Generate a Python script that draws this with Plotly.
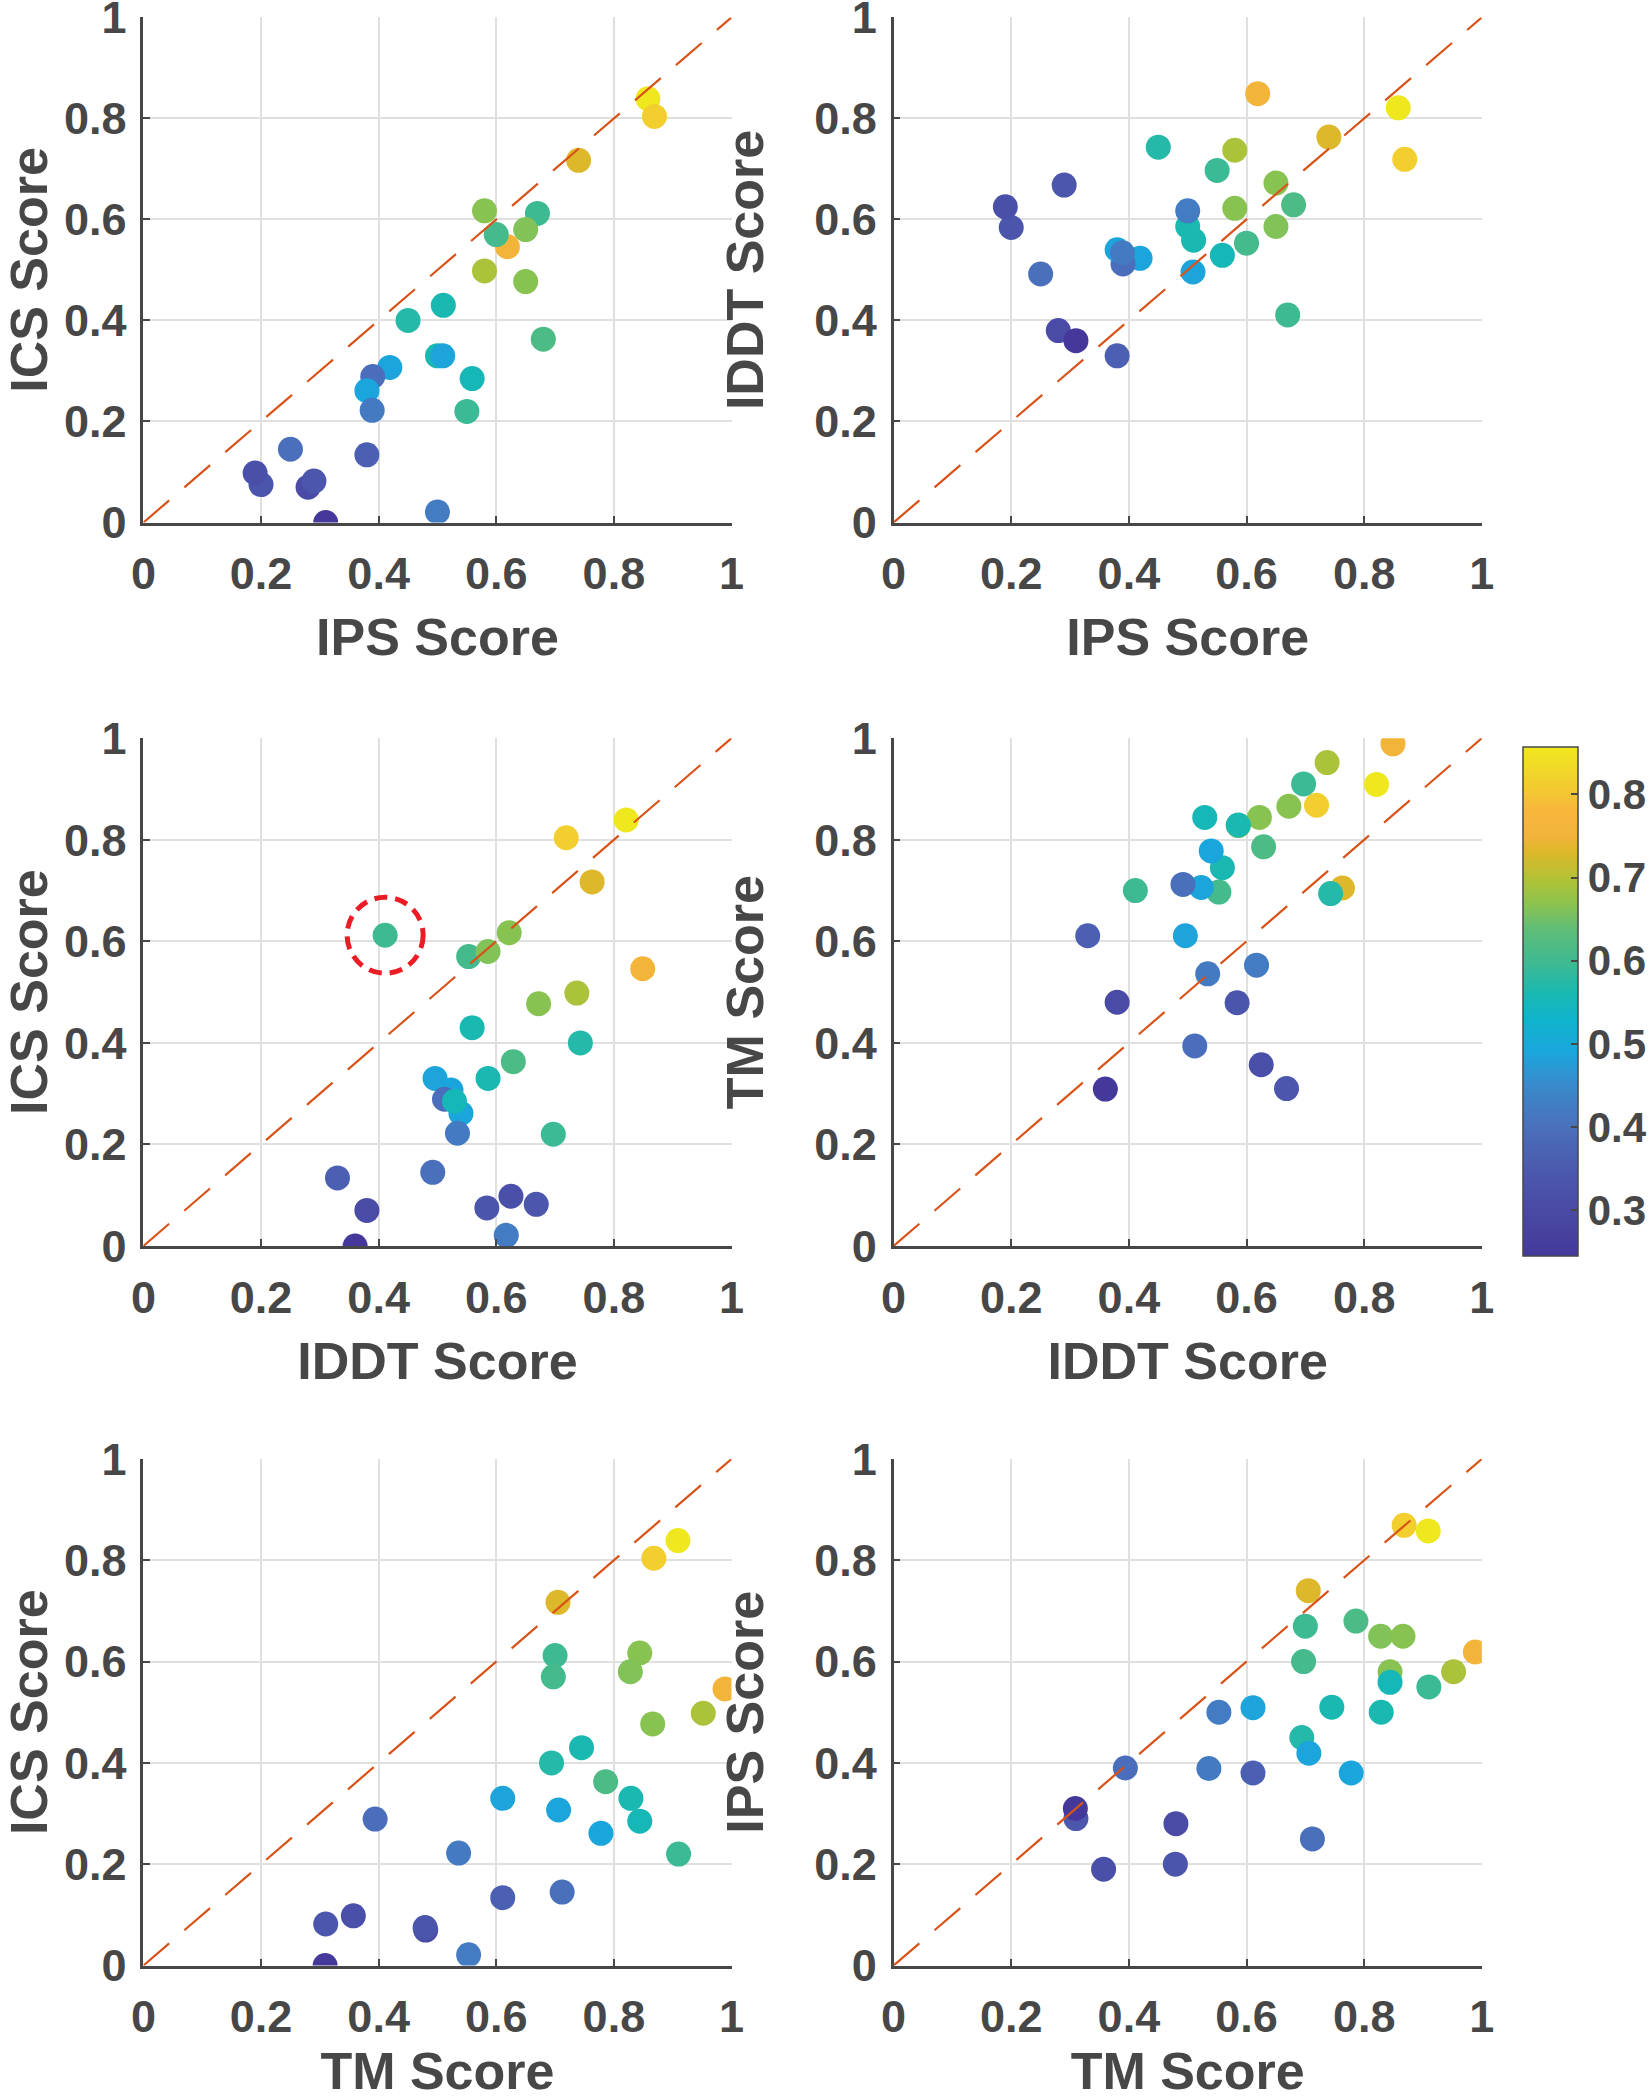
import plotly.graph_objects as go

# ---- data (one entry per target) ----
ips  = [0.858, 0.869, 0.740, 0.619, 0.580, 0.580, 0.670, 0.600, 0.450, 0.680,
        0.650, 0.650, 0.510, 0.500, 0.509, 0.419, 0.390, 0.380, 0.559, 0.389,
        0.550, 0.380, 0.250, 0.280, 0.200, 0.190, 0.290, 0.310, 0.500]
ics  = [0.839, 0.804, 0.717, 0.546, 0.617, 0.498, 0.612, 0.570, 0.400, 0.363,
        0.580, 0.477, 0.430, 0.330, 0.330, 0.307, 0.289, 0.261, 0.285, 0.222,
        0.220, 0.134, 0.145, 0.070, 0.075, 0.098, 0.082, 0.000, 0.021]
iddt = [0.821, 0.719, 0.763, 0.849, 0.622, 0.737, 0.411, 0.553, 0.743, 0.629,
        0.586, 0.672, 0.559, 0.586, 0.496, 0.523, 0.512, 0.540, 0.529, 0.534,
        0.697, 0.330, 0.492, 0.380, 0.584, 0.625, 0.668, 0.360, 0.617]
tm   = [0.909, 0.868, 0.705, 0.989, 0.844, 0.952, 0.700, 0.697, 0.694, 0.786,
        0.828, 0.866, 0.745, 0.829, 0.611, 0.706, 0.394, 0.778, 0.844, 0.536,
        0.910, 0.611, 0.712, 0.480, 0.479, 0.357, 0.310, 0.309, 0.553]
# colour value of each target
cval = [0.857, 0.815, 0.731, 0.751, 0.666, 0.692, 0.598, 0.605, 0.572, 0.615,
        0.661, 0.666, 0.561, 0.561, 0.487, 0.489, 0.396, 0.490, 0.554, 0.420,
        0.594, 0.364, 0.400, 0.303, 0.335, 0.318, 0.338, 0.245, 0.423]

tick_vals = [0, 0.2, 0.4, 0.6, 0.8, 1]
tick_text = ["0", "0.2", "0.4", "0.6", "0.8", "1"]
cbar_vals = [0.3, 0.4, 0.5, 0.6, 0.7, 0.8]
cbar_text = ["0.3", "0.4", "0.5", "0.6", "0.7", "0.8"]
highlight_index = 6  # target circled in the IDDT/ICS panel

CMIN, CMAX = 0.245, 0.857
stops = [(0.245, "#44399a"), (0.30, "#4a4aa6"), (0.35, "#4b5aae"), (0.40, "#4a70bc"),
         (0.45, "#3a8acc"), (0.49, "#1aa6dc"), (0.53, "#10b4cc"), (0.56, "#18b9b2"),
         (0.60, "#40ba90"), (0.64, "#62bd76"), (0.67, "#8ec44c"), (0.70, "#b4c234"),
         (0.73, "#dcb82a"), (0.75, "#f3b43a"), (0.78, "#f8b63c"), (0.81, "#f2cc30"),
         (0.857, "#f0e81e")]
colorscale = [[(v - CMIN) / (CMAX - CMIN), c] for v, c in stops]

panels = [  # (x data, y data, x title, y title)
    (ips, ics, "IPS Score", "ICS Score"),
    (ips, iddt, "IPS Score", "IDDT Score"),
    (iddt, ics, "IDDT Score", "ICS Score"),
    (iddt, tm, "IDDT Score", "TM Score"),
    (tm, ics, "TM Score", "ICS Score"),
    (tm, ips, "TM Score", "IPS Score"),
]

W, H = 1652, 2100
col_px = [(143.4, 731.5), (893.6, 1481.8)]
row_px = [(17.4, 522.5), (738.2, 1246.0), (1459.0, 1965.5)]

TXT = "#474747"
FONT = "Liberation Sans, Arial, Helvetica, sans-serif"

fig = go.Figure()
layout = dict(width=W, height=H, autosize=False,
              margin=dict(l=0, r=0, t=0, b=0, autoexpand=False),
              paper_bgcolor="white", plot_bgcolor="white",
              showlegend=False, shapes=[])

for i, (xd, yd, xt, yt) in enumerate(panels):
    r, c = divmod(i, 2)
    n = "" if i == 0 else str(i + 1)
    xa, ya = "x" + n, "y" + n
    marker = dict(size=25, color=cval, cmin=CMIN, cmax=CMAX,
                  colorscale=colorscale, line=dict(width=0), opacity=1)
    if i == 3:
        marker.update(showscale=True, colorbar=dict(
            x=1523 / W, xanchor="left", xref="paper",
            y=1 - 1001.5 / H, yanchor="middle", yref="paper",
            len=509, lenmode="pixels", thickness=55, thicknessmode="pixels",
            outlinecolor=TXT, outlinewidth=1.5,
            tickvals=cbar_vals, ticktext=cbar_text, tickprefix=" ",
            ticks="inside", ticklen=7, tickwidth=2, tickcolor=TXT,
            tickfont=dict(family=FONT, size=42, color=TXT, weight="bold"),
            xpad=0, ypad=0))
    fig.add_trace(go.Scatter(x=xd, y=yd, mode="markers", marker=marker,
                             xaxis=xa, yaxis=ya, hoverinfo="x+y"))
    x0, x1 = col_px[c]
    y0, y1 = row_px[r]
    common = dict(range=[0, 1], tickvals=tick_vals, ticktext=tick_text,
                  showgrid=True, gridcolor="#e0e0e0", gridwidth=2,
                  showline=True, linecolor=TXT, linewidth=2.5, mirror=False,
                  ticks="inside", ticklen=7, tickwidth=2, tickcolor=TXT,
                  zeroline=False, fixedrange=True, automargin=False,
                  ticklabeloverflow="allow",
                  tickfont=dict(family=FONT, size=45, color=TXT, weight="bold"))
    layout["xaxis" + n] = dict(common, domain=[x0 / W, x1 / W], anchor=ya,
                               ticklabelstandoff=10,
                               title=dict(text=xt, standoff=21,
                                          font=dict(family=FONT, size=52, color=TXT, weight="bold")))
    layout["yaxis" + n] = dict(common, domain=[1 - y1 / H, 1 - y0 / H], anchor=xa,
                               ticklabelstandoff=5,
                               title=dict(text=yt, standoff=35,
                                          font=dict(family=FONT, size=52, color=TXT, weight="bold")))
    # identity (y = x) reference line across the panel
    layout["shapes"].append(dict(type="line", xref=xa, yref=ya,
                                 x0=tick_vals[0], y0=tick_vals[0], x1=tick_vals[-1], y1=tick_vals[-1],
                                 line=dict(color="#d95319", width=2.2, dash="34px,20px"),
                                 layer="above"))

# dashed red circle around the highlighted target in the IDDT vs ICS panel
layout["shapes"].append(dict(type="circle", xref="x3", yref="y3",
                             xsizemode="pixel", ysizemode="pixel",
                             xanchor=iddt[highlight_index], yanchor=ics[highlight_index],
                             x0=-38, x1=38, y0=-38, y1=38,
                             line=dict(color="#ec1c24", width=5, dash="13px,8px"),
                             layer="above"))

fig.update_layout(**layout)
fig.write_html("out.html", config={"displayModeBar": False},
               post_script="document.body.style.margin='0';")
